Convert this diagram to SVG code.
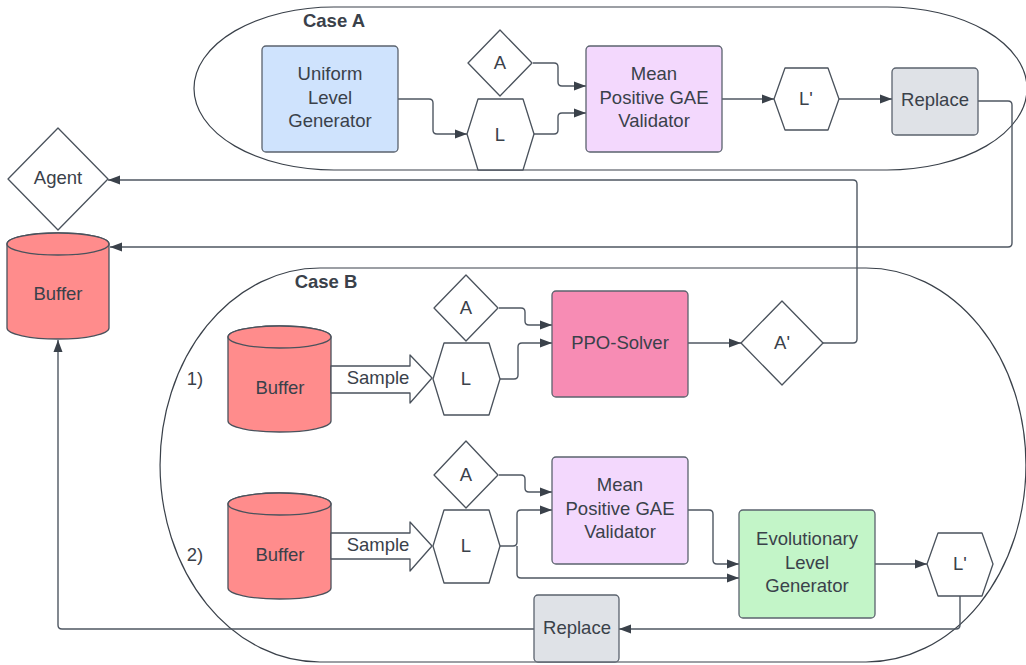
<svg xmlns="http://www.w3.org/2000/svg" width="1026" height="665" viewBox="0 0 1026 665">
<defs>
<style>
.t{font-family:"Liberation Sans",Arial,sans-serif;font-size:18.5px;fill:#3a414a;text-anchor:middle}
.b{font-weight:bold}
.box{stroke:#5b636e;stroke-width:1.3}
.sh{fill:#fff;stroke:#4a525c;stroke-width:1.3;stroke-linejoin:round}
.cyl{fill:#ff8c8c;stroke:#4a525c;stroke-width:1.3}
.grp{fill:none;stroke:#3a414a;stroke-width:1.2}
.c{fill:none;stroke:#4f5762;stroke-width:1.4}
</style>
<marker id="ah" markerWidth="12" markerHeight="10" refX="12" refY="5" orient="auto" markerUnits="userSpaceOnUse"><path d="M0,0.5 L12,5 L0,9.5 Z" fill="#3a414a"/></marker>
</defs>
<rect width="1026" height="665" fill="#fff"/>

<g id="caseA">
<path class="grp" d="M334,7 H887 A140,81.5 0 0 1 887,170 H334 A140,81.5 0 0 1 334,7 Z"/>
<text class="t b" x="334" y="27">Case A</text>
</g>
<g id="caseB">
<path class="grp" d="M320,268 H866 A160,197 0 0 1 866,662 H320 A160,197 0 0 1 320,268 Z"/>
<text class="t b" x="326" y="288">Case B</text>
<text class="t" x="195" y="385">1)</text>
<text class="t" x="195" y="561">2)</text>
</g>

<g id="connectors">
<path class="c" marker-end="url(#ah)" d="M398,99 H429 Q433,99 433,103 V130 Q433,134 437,134 H467"/>
<path class="c" marker-end="url(#ah)" d="M533,63 H554 Q558,63 558,67 V82 Q558,86 562,86 H586"/>
<path class="c" marker-end="url(#ah)" d="M534,134 H554 Q558,134 558,130 V117 Q558,113 562,113 H586"/>
<path class="c" marker-end="url(#ah)" d="M722,99 H774"/>
<path class="c" marker-end="url(#ah)" d="M839,99 H892"/>
<path class="c" marker-end="url(#ah)" d="M978,101 H1008 Q1012,101 1012,105 V243 Q1012,247 1008,247 H110"/>
<path class="c" marker-end="url(#ah)" d="M823,343 H853 Q857,343 857,339 V184 Q857,180 853,180 H108"/>
<path class="c" marker-end="url(#ah)" d="M499,308 H521 Q525,308 525,312 V321 Q525,325 529,325 H552"/>
<path class="c" marker-end="url(#ah)" d="M500,379 H514 Q518,379 518,375 V347 Q518,343 522,343 H552"/>
<path class="c" marker-end="url(#ah)" d="M688,343 H741"/>
<path class="c" marker-end="url(#ah)" d="M499,475 H521 Q525,475 525,479 V488 Q525,492 529,492 H552"/>
<path class="c" marker-end="url(#ah)" d="M500,546 H513 Q517,546 517,542 V514 Q517,510 521,510 H552"/>
<path class="c" marker-end="url(#ah)" d="M517,546 V574 Q517,578 521,578 H739"/>
<path class="c" marker-end="url(#ah)" d="M688,510 H709 Q713,510 713,514 V560 Q713,564 717,564 H739"/>
<path class="c" marker-end="url(#ah)" d="M875,564 H927"/>
<path class="c" marker-end="url(#ah)" d="M960,596 V625 Q960,629 956,629 H619"/>
<path class="c" marker-end="url(#ah)" d="M534,629 H62 Q58,629 58,625 V340"/>
</g>

<g id="uniformGen">
<rect class="box" x="262" y="46" width="136" height="106" rx="4" fill="#cfe3fd"/>
<text class="t" x="330" y="80">Uniform</text>
<text class="t" x="330" y="104">Level</text>
<text class="t" x="330" y="127">Generator</text>
</g>
<g id="a_A">
<polygon class="sh" points="500,30 532,63 500,96 468,63"/>
<text class="t" x="500" y="69">A</text>
</g>
<g id="a_L">
<polygon class="sh" points="467,134 478,99 523,99 534,134 523,170 478,170"/>
<text class="t" x="500" y="141">L</text>
</g>
<g id="a_validator">
<rect class="box" x="586" y="46" width="136" height="106" rx="4" fill="#f3d8fd"/>
<text class="t" x="654" y="80">Mean</text>
<text class="t" x="654" y="104">Positive GAE</text>
<text class="t" x="654" y="127">Validator</text>
</g>
<g id="a_Lp">
<polygon class="sh" points="774,99 785,68 828,68 839,99 828,130 785,130"/>
<text class="t" x="806" y="105">L'</text>
</g>
<g id="a_replace">
<rect class="box" x="892" y="68" width="86" height="67" rx="4" fill="#dfe2e7"/>
<text class="t" x="935" y="106">Replace</text>
</g>

<g id="agent">
<polygon class="sh" points="58,128 108,179 58,230 8,179"/>
<text class="t" x="58" y="184">Agent</text>
</g>
<g id="buffer">
<path class="cyl" d="M7,244 A51,11 0 0 1 109,244 V328 A51,11 0 0 1 7,328 Z"/>
<ellipse class="cyl" cx="58" cy="244" rx="51" ry="11"/>
<text class="t" x="58" y="300">Buffer</text>
</g>

<g id="b1_buffer">
<path class="cyl" d="M228,337 A51.5,11 0 0 1 331,337 V421 A51.5,11 0 0 1 228,421 Z"/>
<ellipse class="cyl" cx="279.5" cy="337" rx="51.5" ry="11"/>
<text class="t" x="280" y="394">Buffer</text>
</g>
<g id="b1_sample">
<path class="sh" d="M331,366 H410 V355 L432,378 L410,403 V393 H331 Z"/>
<text class="t" x="378" y="384">Sample</text>
</g>
<g id="b1_A">
<polygon class="sh" points="466,275 498,308 466,341 434,308"/>
<text class="t" x="466" y="314">A</text>
</g>
<g id="b1_L">
<polygon class="sh" points="433,379 444,343 489,343 500,379 489,415 444,415"/>
<text class="t" x="466" y="385">L</text>
</g>
<g id="ppo">
<rect class="box" x="552" y="291" width="136" height="106" rx="4" fill="#f78cb4"/>
<text class="t" x="620" y="349">PPO-Solver</text>
</g>
<g id="b1_Ap">
<polygon class="sh" points="782,301 823,343 782,385 741,343"/>
<text class="t" x="782" y="349">A'</text>
</g>

<g id="b2_buffer">
<path class="cyl" d="M228,504 A51.5,11 0 0 1 331,504 V588 A51.5,11 0 0 1 228,588 Z"/>
<ellipse class="cyl" cx="279.5" cy="504" rx="51.5" ry="11"/>
<text class="t" x="280" y="561">Buffer</text>
</g>
<g id="b2_sample">
<path class="sh" d="M331,533 H410 V522 L432,546 L410,571 V559 H331 Z"/>
<text class="t" x="378" y="551">Sample</text>
</g>
<g id="b2_A">
<polygon class="sh" points="466,441 498,475 466,508 434,475"/>
<text class="t" x="466" y="481">A</text>
</g>
<g id="b2_L">
<polygon class="sh" points="433,546 444,510 489,510 500,546 489,583 444,583"/>
<text class="t" x="466" y="552">L</text>
</g>
<g id="b2_validator">
<rect class="box" x="552" y="457" width="136" height="107" rx="4" fill="#f3d8fd"/>
<text class="t" x="620" y="491">Mean</text>
<text class="t" x="620" y="515">Positive GAE</text>
<text class="t" x="620" y="538">Validator</text>
</g>
<g id="evoGen">
<rect class="box" x="739" y="510" width="136" height="108" rx="4" fill="#c3f5c8"/>
<text class="t" x="807" y="545">Evolutionary</text>
<text class="t" x="807" y="569">Level</text>
<text class="t" x="807" y="592">Generator</text>
</g>
<g id="b2_Lp">
<polygon class="sh" points="927,564 938,533 982,533 993,564 982,596 938,596"/>
<text class="t" x="960" y="570">L'</text>
</g>
<g id="b2_replace">
<rect class="box" x="534" y="595" width="85" height="67" rx="4" fill="#dfe2e7"/>
<text class="t" x="577" y="634">Replace</text>
</g>
</svg>
